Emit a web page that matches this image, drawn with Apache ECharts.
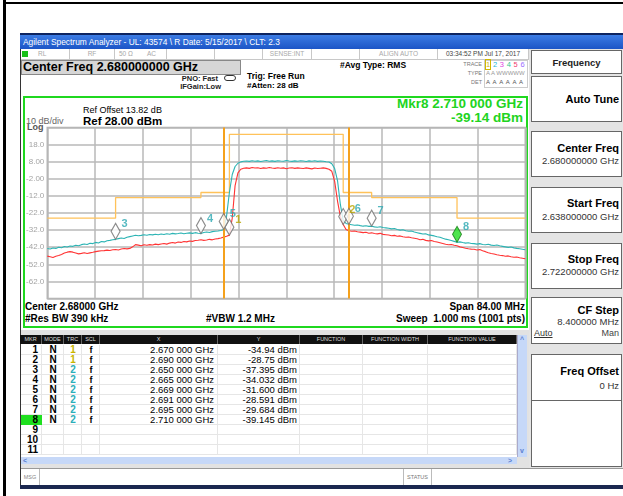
<!DOCTYPE html>
<html><head><meta charset="utf-8">
<script src="https://cdn.jsdelivr.net/npm/echarts@6/dist/echarts.min.js"></script>
<style>
html,body{margin:0;padding:0;background:#fff;}
#page{position:relative;width:623px;height:496px;overflow:hidden;font-family:'Liberation Sans',Arial,sans-serif;color:#000;}
.a{position:absolute;white-space:nowrap;box-sizing:border-box;}
.key{position:absolute;left:531px;width:91px;background:#fff;border:1px solid #666;box-sizing:border-box;}
.kt{position:absolute;right:2px;font-weight:bold;font-size:11px;line-height:13px;white-space:nowrap;}
.kv{position:absolute;right:2px;font-size:9.5px;line-height:11px;color:#333;white-space:nowrap;}
.st{position:absolute;top:49px;height:10px;border-right:1px solid #c8c8c8;box-sizing:border-box;font-size:6.5px;line-height:10px;color:#a8a8a8;white-space:nowrap;}
</style></head><body>
<div id="page">
  <!-- outer frame -->
  <div class="a" style="left:3px;top:0;width:3px;height:496px;background:#000"></div>
  <div class="a" style="left:3px;top:2px;width:620px;height:2px;background:#000"></div>
  <!-- window -->
  <div class="a" style="left:20px;top:33px;width:603px;height:453px;background:#e2e2e2;border-left:1px solid #333"></div>
  <div class="a" style="left:20px;top:33px;width:603px;height:2px;background:#0d2460"></div>
  <div class="a" style="left:20px;top:35px;width:603px;height:14px;background:linear-gradient(#3c7ce4,#1c55c6)"></div>
  <div class="a" style="left:23px;top:36px;font-size:8.4px;line-height:12px;color:#fff">Agilent Spectrum Analyzer - UL: 43574 \ R Date: 5/15/2017 \ CLT: 2.3</div>
  <!-- top panel -->
  <div class="a" style="left:21px;top:49px;width:508px;height:281px;background:#fff"></div>
  <div class="st" style="left:21px;width:49px;"><span style="display:inline-block;width:6px;height:6px;background:#17c017;margin:2px 0 0 1px;vertical-align:top"></span><span style="margin-left:10px">RL</span></div>
  <div class="st" style="left:70px;width:45px;text-align:center">RF</div>
  <div class="st" style="left:115px;width:52px;padding-left:4px">50 Ω<span style="margin-left:14px">AC</span></div>
  <div class="st" style="left:167px;width:48px;"></div>
  <div class="st" style="left:215px;width:48px;"></div>
  <div class="st" style="left:263px;width:49px;text-align:center">SENSE:INT</div>
  <div class="st" style="left:312px;width:48px;"></div>
  <div class="st" style="left:360px;width:78px;text-align:center">ALIGN AUTO</div>
  <div class="st" style="left:438px;width:91px;text-align:center;color:#444">03:34:52 PM Jul 17, 2017</div>
  <div class="a" style="left:21px;top:59px;width:508px;height:1px;background:#c8c8c8"></div>
  <div class="a" style="left:21px;top:60px;width:220px;height:15px;background:#d6d6d6;border:1px solid #888"></div>
  <div class="a" style="left:23px;top:60px;font-size:12.5px;font-weight:bold;line-height:14px">Center Freq 2.680000000 GHz</div>
  <div class="a" style="right:405px;top:74px;font-size:7.5px;font-weight:bold;line-height:9px;color:#222">PNO: Fast</div>
  <div class="a" style="right:402px;top:82px;font-size:7.5px;font-weight:bold;line-height:9px;color:#222">IFGain:Low</div>
  <div class="a" style="left:224px;top:75px;width:12px;height:6px;border:1px solid #333;border-radius:3px"></div>
  <div class="a" style="left:247px;top:71px;font-size:8.5px;font-weight:bold;line-height:11px">Trig: Free Run</div>
  <div class="a" style="left:247px;top:81px;font-size:8px;font-weight:bold;line-height:10px">#Atten: 28 dB</div>
  <div class="a" style="left:340px;top:60px;font-size:8.5px;font-weight:bold;line-height:10px">#Avg Type: RMS</div>
  <div class="a" style="right:141px;top:60px;font-size:5.5px;line-height:8px;color:#777">TRACE</div>
  <div class="a" style="right:141px;top:69px;font-size:5.5px;line-height:8px;color:#777">TYPE</div>
  <div class="a" style="right:141px;top:78px;font-size:5.5px;line-height:8px;color:#777">DET</div>
  <div class="a" style="left:484px;top:60px;width:44px;height:28px;border:1px solid #ccc"></div>
  <div class="a" style="left:486px;top:60px;font-size:7.5px;line-height:9px;letter-spacing:0.3px"><span style="color:#d0b800;outline:1px solid #d0b800">1</span> <span style="color:#22b8d8">2</span> <span style="color:#e040e0">3</span> <span style="color:#30c890">4</span> <span style="color:#f04070">5</span> <span style="color:#9b6bff">6</span></div>
  <div class="a" style="left:486px;top:69px;font-size:6px;line-height:8px;color:#999">A A WWWWW</div>
  <div class="a" style="left:486px;top:78px;font-size:6px;line-height:8px;color:#555;letter-spacing:0.8px">A A A A A A</div>
  <!-- green box -->
  <div class="a" style="left:23px;top:96px;width:505px;height:232px;border:2px solid #1fd81f;background:#fff"></div>
  <div class="a" style="left:83px;top:105px;font-size:9px;line-height:11px">Ref Offset 13.82 dB</div>
  <div class="a" style="left:83px;top:115px;font-size:11.5px;font-weight:bold;line-height:13px">Ref 28.00 dBm</div>
  <div class="a" style="left:26px;top:116px;font-size:9px;line-height:10px;color:#666">10 dB/div</div>
  <div class="a" style="left:27px;top:123px;font-size:9px;font-weight:bold;line-height:9px;color:#555">Log</div>
  <div class="a" style="right:100px;top:96px;font-size:13.5px;font-weight:bold;line-height:16px;color:#21d421">Mkr8 2.710 000 GHz</div>
  <div class="a" style="right:100px;top:110px;font-size:13.5px;font-weight:bold;line-height:16px;color:#21d421">-39.14 dBm</div>
  <div class="a" style="left:25px;top:301px;font-size:10px;font-weight:bold;line-height:12px">Center 2.68000 GHz</div>
  <div class="a" style="right:98px;top:301px;font-size:10px;font-weight:bold;line-height:12px">Span 84.00 MHz</div>
  <div class="a" style="left:25px;top:313px;font-size:10px;font-weight:bold;line-height:12px">#Res BW 390 kHz</div>
  <div class="a" style="left:206px;top:313px;font-size:10px;font-weight:bold;line-height:12px">#VBW 1.2 MHz</div>
  <div class="a" style="right:98px;top:313px;font-size:10px;font-weight:bold;line-height:12px">Sweep&nbsp;&nbsp;1.000 ms (1001 pts)</div>
  <!-- marker table -->
  <div id="table"></div>
  <!-- msg row -->
  <div class="a" style="left:21px;top:468px;width:602px;height:17px;background:#fff;border-top:1px solid #999"></div>
  <div class="a" style="left:21px;top:469px;width:19px;height:16px;border-right:1px solid #bbb;font-size:5.5px;line-height:16px;color:#888;text-align:center">MSG</div>
  <div class="a" style="left:403px;top:469px;width:29px;height:16px;border-left:1px solid #bbb;border-right:1px solid #bbb;font-size:5.5px;line-height:16px;color:#777;text-align:center">STATUS</div>
  <div class="a" style="left:20px;top:485px;width:603px;height:4px;background:#1b2850"></div>
  <!-- softkeys -->
  <div class="a" style="left:529px;top:49px;width:94px;height:419px;background:#e4e4e4"></div>
  <div class="key" style="top:50px;height:24px;"><div class="a" style="left:0;width:89px;top:6px;text-align:center;font-size:9.5px;font-weight:bold;line-height:11px;color:#222">Frequency</div></div>
  <div class="key" style="top:76px;height:46px;"><div class="kt" style="top:16px">Auto Tune</div></div>
  <div class="key" style="top:131px;height:46px;"><div class="kt" style="top:10px">Center Freq</div><div class="kv" style="top:23px">2.680000000 GHz</div></div>
  <div class="key" style="top:187px;height:46px;"><div class="kt" style="top:9px">Start Freq</div><div class="kv" style="top:23px">2.638000000 GHz</div></div>
  <div class="key" style="top:243px;height:46px;"><div class="kt" style="top:9px">Stop Freq</div><div class="kv" style="top:22px">2.722000000 GHz</div></div>
  <div class="key" style="top:297px;height:47px;"><div class="kt" style="top:6px">CF Step</div><div class="kv" style="top:18px">8.400000 MHz</div><div class="a" style="left:2px;top:30px;font-size:9px;line-height:11px;text-decoration:underline;color:#333">Auto</div><div class="kv" style="top:30px;font-size:9px;color:#444">Man</div></div>
  <div class="key" style="top:354px;height:47px;"><div class="kt" style="top:10px">Freq Offset</div><div class="kv" style="top:25px">0 Hz</div></div>
  <div class="key" style="top:400px;height:67px;"></div>
  <div id="chart" style="position:absolute;left:0;top:0;width:623px;height:496px;"></div>
</div>
<script>
// ---- sweep definition (MHz) ----
const sweepStartMHz = 2638;
const sweepStepMHz = 0.5;
// ---- trace 1 (red), dBm, one value per sweep point ----
const trace1Level = [
  -47.2, -47.6, -48.0, -47.3, -46.9, -46.2, -45.4, -44.9, -44.6, -44.9,
  -45.4, -45.9, -45.6, -45.2, -45.7, -45.3, -45.0, -44.6, -44.3, -44.1,
  -44.0, -43.7, -43.9, -43.5, -43.3, -43.6, -43.1, -42.8, -43.0, -42.7,
  -41.8, -40.5, -40.8, -41.2, -40.6, -40.9, -40.5, -40.7, -40.2, -40.5,
  -40.1, -39.8, -40.2, -39.6, -39.3, -39.6, -39.0, -39.2, -38.7, -38.9,
  -38.4, -38.6, -38.1, -37.9, -37.6, -38.0, -37.8, -37.4, -37.7, -37.2,
  -37.0, -36.6, -36.1, -35.6, -34.94, -25.0, -6.0, 1.5, 3.6, 4.2,
  4.4, 4.1, 4.6, 4.3, 4.5, 4.0, 4.4, 4.2, 4.6, 4.3,
  4.1, 4.5, 4.2, 4.4, 3.9, 4.3, 4.5, 4.1, 4.4, 4.2,
  4.0, 4.4, 4.1, 3.8, 4.3, 4.0, 4.2, 4.4, 4.1, 3.6,
  2.4, -3.5, -15.0, -24.0, -28.75, -31.6, -32.4, -32.7, -32.5, -33.0,
  -33.2, -33.5, -33.3, -33.8, -33.6, -34.0, -34.2, -33.9, -34.5, -34.7,
  -34.9, -35.3, -35.1, -35.6, -35.4, -35.9, -36.2, -36.0, -36.5, -36.8,
  -37.1, -37.6, -37.4, -38.0, -38.3, -38.1, -38.7, -39.0, -39.4, -39.8,
  -40.3, -40.6, -40.4, -40.9, -41.2, -41.8, -42.2, -42.6, -42.9, -43.1,
  -43.2, -43.6, -43.4, -44.1, -44.6, -45.2, -45.7, -46.0, -46.4, -46.7,
  -46.9, -47.3, -47.1, -47.6, -47.9, -47.7, -48.2, -48.5, -48.8
];
// ---- trace 2 (cyan) ----
const trace2Level = [
  -42.8, -43.1, -42.5, -42.7, -42.0, -42.3, -41.6, -41.9, -41.3, -41.5,
  -40.9, -41.2, -40.5, -40.1, -40.4, -39.7, -39.9, -39.2, -39.5, -38.7,
  -38.9, -38.2, -38.0, -37.6, -37.4, -37.0, -36.6, -36.9, -36.2, -35.8,
  -35.4, -35.0, -35.3, -35.1, -34.7, -35.0, -34.6, -34.8, -34.4, -34.7,
  -34.3, -34.6, -34.1, -34.4, -33.9, -34.2, -34.0, -33.7, -34.1, -33.8,
  -33.6, -33.9, -33.5, -33.8, -34.0, -33.4, -33.1, -33.4, -32.9, -32.7,
  -32.5, -32.2, -31.6, -24.0, -10.0, 0.5, 5.2, 7.1, 7.9, 8.3,
  8.4, 8.2, 8.6, 8.3, 8.5, 8.1, 8.4, 8.7, 8.3, 8.5,
  8.2, 8.6, 8.4, 8.3, 8.7, 8.4, 8.2, 8.5, 8.3, 8.6,
  8.4, 8.1, 8.5, 8.3, 8.6, 8.2, 8.4, 8.3, 8.0, 7.8,
  6.8, 4.0, -3.0, -17.0, -26.5, -28.1, -28.6, -28.9, -29.2, -29.0,
  -29.4, -29.7, -29.5, -29.8, -29.7, -30.1, -30.3, -30.0, -30.5, -30.7,
  -30.9, -31.3, -31.1, -31.6, -32.0, -31.8, -32.4, -32.7, -32.5, -33.1,
  -33.5, -33.9, -34.3, -34.1, -34.8, -35.1, -35.4, -35.9, -36.2, -36.8,
  -37.3, -37.6, -38.1, -38.6, -39.1, -38.9, -39.3, -39.6, -39.4, -39.8,
  -39.9, -40.2, -39.9, -40.4, -40.6, -40.3, -40.8, -41.0, -40.7, -41.2,
  -41.5, -41.8, -42.1, -41.9, -42.4, -42.7, -42.9, -43.2, -43.5
];
// ---- limit mask ----
const limitFreqMHz = [2638, 2650, 2665, 2670, 2690, 2695, 2710, 2722];
const limitLevel = [-25, -13, -10, 24, -10, -13, -25, -25];
const boundaryFreqMHz = [2669, 2691];
// ---- markers ----
const markerNo = [1, 2, 3, 4, 5, 6, 7, 8];
const markerTrace = [1, 1, 2, 2, 2, 2, 2, 2];
const markerFreqMHz = [2670, 2690, 2650, 2665, 2669, 2691, 2695, 2710];
const markerY = ['-34.94', '-28.75', '-37.395', '-34.032', '-31.600', '-28.591', '-29.684', '-39.145'];
const activeMarker = 8;
const tableRows = 11;
const tableCols = ['MKR', 'MODE', 'TRC', 'SCL', 'X', 'Y', 'FUNCTION', 'FUNCTION WIDTH', 'FUNCTION VALUE'];

// ---- marker table (HTML) ----
(function(){
  const colL = [20, 42, 64, 82, 100, 218, 300, 363, 428];
  const colW = [22, 22, 18, 18, 118, 82, 63, 65, 89];
  const T = document.getElementById('table');
  let h = '<div class="a" style="left:21px;top:335px;width:506px;height:122px;background:#fff"></div>';
  tableCols.forEach((c, i) => {
    h += `<div class="a" style="left:${colL[i]}px;top:335px;width:${colW[i]}px;height:9px;background:#111;border-right:1px solid #666;color:#ddd;font-size:5.5px;line-height:9px;text-align:center">${c}</div>`;
  });
  for (let r = 0; r < tableRows; r++) {
    const top = 345 + r * 10;
    h += `<div class="a" style="left:21px;top:${top + 9}px;width:496px;height:1px;background:#e6e6e6"></div>`;
    colL.forEach((l, i) => {
      h += `<div class="a" style="left:${l + colW[i] - 1}px;top:${top}px;width:1px;height:10px;background:#e6e6e6"></div>`;
    });
    const n = r + 1;
    const bg = n === activeMarker ? 'background:#1fe01f;' : '';
    h += `<div class="a" style="${bg}left:21px;top:${top}px;width:21px;height:10px;text-align:right;padding-right:4px;font-size:10px;font-weight:bold;line-height:10px">${n}</div>`;
    const k = markerNo.indexOf(n);
    if (k >= 0) {
      const tc = markerTrace[k] === 1 ? '#c8b400' : '#2aaeb8';
      const s = (markerFreqMHz[k] / 1000).toFixed(6);
      const xs = s.slice(0, 5) + ' ' + s.slice(5) + ' GHz';
      h += `<div class="a" style="left:42px;top:${top}px;width:22px;text-align:center;font-size:10px;font-weight:bold;line-height:10px">N</div>`;
      h += `<div class="a" style="left:64px;top:${top}px;width:18px;text-align:center;font-size:10px;font-weight:bold;line-height:10px;color:${tc}">${markerTrace[k]}</div>`;
      h += `<div class="a" style="left:82px;top:${top}px;width:18px;text-align:center;font-size:9px;font-weight:bold;line-height:10px">f</div>`;
      h += `<div class="a" style="left:100px;top:${top}px;width:118px;text-align:right;padding-right:4px;font-size:9.5px;line-height:10px">${xs}</div>`;
      h += `<div class="a" style="left:218px;top:${top}px;width:82px;text-align:right;padding-right:3px;font-size:9.5px;line-height:10px">${markerY[k]} dBm</div>`;
    }
  }
  h += '<div class="a" style="left:517px;top:335px;width:10px;height:122px;background:#c6d8f8;border-left:1px solid #aac"></div>';
  h += '<div class="a" style="left:517px;top:335px;width:10px;text-align:center;font-size:7px;line-height:9px;color:#5a7fd0;font-weight:bold">^</div>';
  h += '<div class="a" style="left:517px;top:446px;width:10px;text-align:center;font-size:7px;line-height:9px;color:#5a7fd0;font-weight:bold">v</div>';
  h += '<div class="a" style="left:21px;top:457px;width:496px;height:7px;background:#c6d8f8"></div>';
  h += '<div class="a" style="left:23px;top:456px;font-size:7px;line-height:9px;color:#5a7fd0;font-weight:bold">&lt;</div>';
  h += '<div class="a" style="left:508px;top:456px;font-size:7px;line-height:9px;color:#5a7fd0;font-weight:bold">&gt;</div>';
  T.innerHTML = h;
})();

// ---- chart ----
const chart = echarts.init(document.getElementById('chart'), null, { renderer: 'canvas' });
const sweep = levels => levels.map((v, i) => [sweepStartMHz + i * sweepStepMHz, v]);
const markerData = markerNo.map((n, i) => ({
  value: [markerFreqMHz[i], parseFloat(markerY[i])],
  itemStyle: n === activeMarker ? { color: '#22dd22', borderColor: '#117711', borderWidth: 1 } : { color: '#ffffff', borderColor: '#6f6f6f', borderWidth: 1.2 },
  label: { show: true, formatter: String(n), color: markerTrace[i] === 1 ? '#b9a500' : '#2aa8b2' }
}));
chart.setOption({
  backgroundColor: 'transparent',
  animation: false,
  grid: { left: 47.3, top: 127.5, width: 478, height: 171, show: true, borderColor: '#b0b0b0', borderWidth: 1.5 },
  xAxis: {
    type: 'value', min: 2638, max: 2722, interval: 8.4,
    axisLine: { show: false }, axisTick: { show: false }, axisLabel: { show: false },
    splitLine: { show: true, lineStyle: { color: '#b8b8b8', width: 1.5 } }
  },
  yAxis: {
    type: 'value', min: -72, max: 28, interval: 10,
    axisLine: { show: false }, axisTick: { show: false },
    axisLabel: {
      margin: 3, color: '#a4a4a4', fontSize: 8, fontFamily: 'Liberation Sans',
      formatter: v => (v >= 27.5 || v <= -71.5) ? '' : (Math.abs(v) < 10 ? v.toFixed(2) : v.toFixed(1))
    },
    splitLine: { show: true, lineStyle: { color: '#b8b8b8', width: 1.5 } }
  },
  series: [
    {
      type: 'line', name: 'limit', step: 'end', symbol: 'none', z: 2,
      data: limitFreqMHz.map((f, i) => [f, limitLevel[i]]),
      lineStyle: { color: '#ffc25a', width: 1.3 },
      markLine: {
        silent: true, symbol: 'none', label: { show: false },
        lineStyle: { color: '#f5a11c', width: 2, type: 'solid' },
        data: boundaryFreqMHz.map(f => ({ xAxis: f }))
      }
    },
    { type: 'line', name: 'Trace 1', symbol: 'none', z: 3, data: sweep(trace1Level), lineStyle: { color: '#ff3434', width: 1.1 } },
    { type: 'line', name: 'Trace 2', symbol: 'none', z: 4, data: sweep(trace2Level), lineStyle: { color: '#2cb4b4', width: 1.1 } },
    {
      type: 'scatter', name: 'Markers', z: 6, symbol: 'diamond', symbolSize: [9, 16], symbolOffset: [0, '-50%'],
      label: { show: true, position: 'right', distance: 1, offset: [0, -7], fontSize: 11, fontWeight: 'bold', fontFamily: 'Liberation Sans' },
      data: markerData
    }
  ]
});
</script>
</body></html>
